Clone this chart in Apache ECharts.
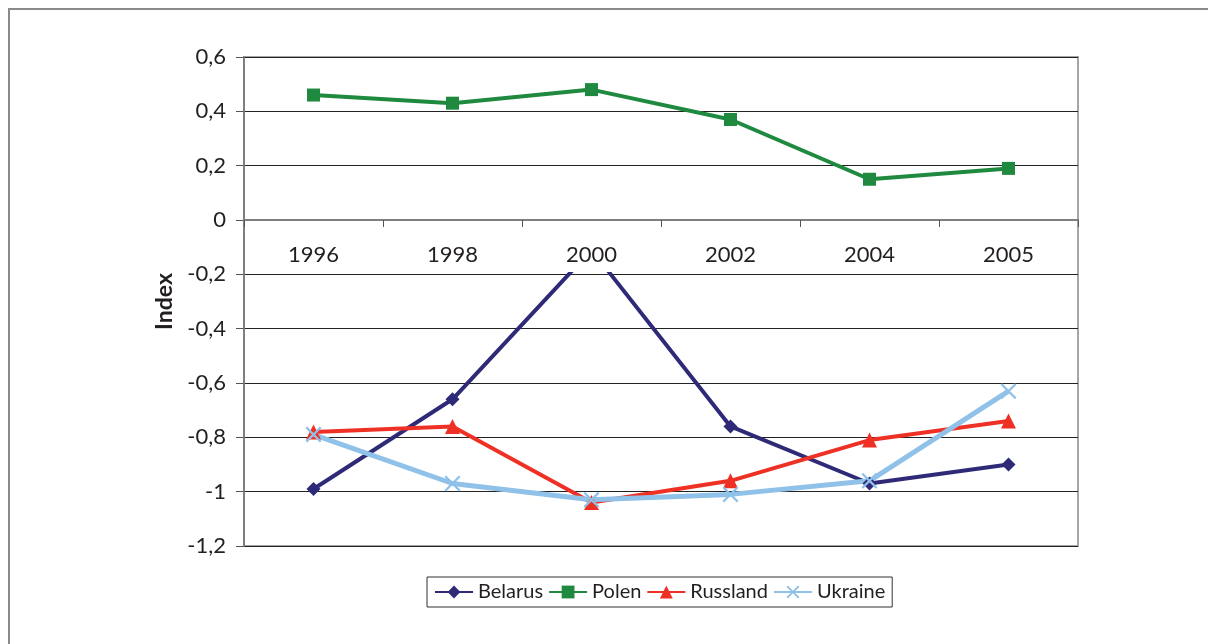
<!DOCTYPE html>
<html>
<head>
<meta charset="utf-8">
<script src="https://cdn.jsdelivr.net/npm/echarts@6/dist/echarts.min.js"></script>
<style>
  html, body { margin: 0; padding: 0; background: #fff; }
  #chart { width: 1208px; height: 644px; }
</style>
</head>
<body>
<div id="chart"></div>
<script>
// jahre
var years = ['1996', '1998', '2000', '2002', '2004', '2005'];
var belarus = [-0.99, -0.66, -0.11, -0.76, -0.97, -0.90];
var polen = [0.46, 0.43, 0.48, 0.37, 0.15, 0.19];
var russland = [-0.78, -0.76, -1.04, -0.96, -0.81, -0.74];
var ukraine = [-0.79, -0.97, -1.03, -1.01, -0.96, -0.63];

var font = 'Lato';
var crossIcon = 'path://M0,1L1,0L5,4L9,0L10,1L6,5L10,9L9,10L5,6L1,10L0,9L4,5Z';

var chart = echarts.init(document.getElementById('chart'));

function lineSeries(name, data, color, symbol, size, width) {
  return {
    name: name,
    type: 'line',
    data: data,
    symbol: symbol,
    symbolSize: size,
    showAllSymbol: true,
    lineStyle: { color: color, width: width },
    itemStyle: { color: color },
    emphasis: { disabled: true },
    z: 3
  };
}

var option = {
  animation: false,
  textStyle: { fontFamily: font },
  graphic: [{
    type: 'rect',
    shape: { x: 9, y: 9, width: 1400, height: 1000 },
    style: { fill: null, stroke: '#8a8a8a', lineWidth: 2 },
    z: -1
  }],
  grid: {
    left: 244, right: 130, top: 57, bottom: 98,
    show: true, borderColor: '#a6a6a6', borderWidth: 2
  },
  legend: {
    left: 427, top: 577,
    itemWidth: 38, itemHeight: 16, itemGap: 5,
    padding: [5, 7],
    borderColor: '#333', borderWidth: 1,
    textStyle: { fontFamily: font, fontSize: 20, color: '#231f20' },
    data: ['Belarus', 'Polen', 'Russland', 'Ukraine']
  },
  xAxis: {
    type: 'category',
    data: years,
    z: 5,
    // achse auf die nulllinie schieben
    offset: -326,
    axisLine: { onZero: false, lineStyle: { color: '#7f7f7f', width: 2 } },
    axisTick: { show: true, length: 7, lineStyle: { color: '#555' } },
    axisLabel: {
      margin: 22, fontSize: 22, color: '#231f20', fontFamily: font,
      backgroundColor: '#fff', padding: [2, 4, 6, 4]
    },
    splitLine: { show: false }
  },
  yAxis: {
    type: 'value',
    min: -1.2, max: 0.6, interval: 0.2,
    name: 'Index',
    nameLocation: 'middle',
    nameGap: 66,
    nameTextStyle: { fontFamily: font, fontSize: 23, fontWeight: 'bold', color: '#231f20' },
    axisLine: { show: true, lineStyle: { color: '#7f7f7f', width: 2 } },
    axisTick: { show: true, length: 8, lineStyle: { color: '#555' } },
    axisLabel: {
      margin: 18, fontSize: 22, color: '#231f20', fontFamily: font,
      formatter: function (v) { return String(Math.round(v * 10) / 10).replace('.', ','); }
    },
    splitLine: { lineStyle: { color: '#222', width: 1 } }
  },
  series: [
    lineSeries('Belarus', belarus, '#2e2a77', 'diamond', 14, 4),
    lineSeries('Polen', polen, '#1f8a3f', 'rect', 13, 4),
    lineSeries('Russland', russland, '#ee3124', 'triangle', 15, 4),
    lineSeries('Ukraine', ukraine, '#8fc1e9', crossIcon, 16, 5)
  ]
};

chart.setOption(option);
</script>
</body>
</html>
